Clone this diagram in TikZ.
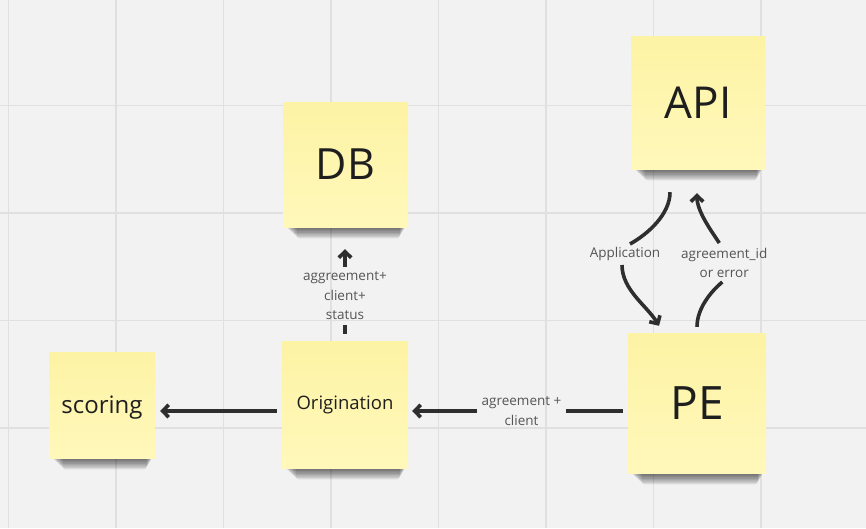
\documentclass[tikz,border=0pt]{standalone}
\usepackage{fontspec}
\setmainfont{Open Sans}
\usetikzlibrary{arrows.meta,calc,backgrounds}
\definecolor{bg}{HTML}{F2F2F2}
\definecolor{gridc}{HTML}{E0E0E0}
\definecolor{stickytop}{HTML}{FDF3A5}
\definecolor{stickybot}{HTML}{FFF8BA}
\definecolor{ink}{HTML}{1E1E1E}
\definecolor{labc}{HTML}{555555}
\definecolor{wirec}{HTML}{2E2E2E}
\tikzset{
  sticky/.style={rectangle, inner sep=0pt, top color=stickytop, bottom color=stickybot, draw=none, text=ink},
  lbl/.style={text=labc, font=\fontsize{13.5}{19.5}\selectfont, align=center, inner sep=0pt},
  wire/.style={draw=wirec, line width=3.6pt, line cap=butt},
  arrowend/.style={-{Straight Barb[length=6pt,width=12.5pt]}},
  gridline/.style={draw=gridc, line width=1.5pt},
}
\begin{document}
\begin{tikzpicture}[x=1pt,y=-1pt]
\useasboundingbox (0,0) rectangle (866,528);
% stickies
\node[sticky, minimum width=134pt, minimum height=133pt, font=\fontsize{44}{48}\selectfont] (api) at (698,102.5) {API};
\node[sticky, minimum width=125pt, minimum height=125pt, font=\fontsize{43}{48}\selectfont] (db) at (345.5,164.5) {DB};
\node[sticky, minimum width=106pt, minimum height=106pt, font=\fontsize{24}{28}\selectfont, text height=17pt, text depth=0pt] (scoring) at (102,405) {scoring};
\node[sticky, minimum width=126pt, minimum height=127pt, font=\fontsize{18.5}{22}\selectfont, text height=13.2pt, text depth=3.6pt] (orig) at (345,404.5) {Origination};
\node[sticky, minimum width=138pt, minimum height=140pt, font=\fontsize{46}{50}\selectfont] (pe) at (697,403) {PE};
% background: grid and shadows
\begin{scope}[on background layer]
  \fill[bg] (0,0) rectangle (866,528);
  \foreach \x in {8.5,116,223.5,331,438.5,546,653.5,761} \draw[gridline] (\x,0) -- (\x,528);
  \foreach \y in {105.5,213,320.5,428} \draw[gridline] (0,\y) -- (866,\y);
  \foreach \n in {api,db,scoring,orig,pe} {
    \foreach \k in {1,...,8} {
      \fill[black, opacity=0.085, rounded corners=3pt] ($(\n.south west)+(2+1.5*\k,-3)$) rectangle ($(\n.south east)+(-2-0.8*\k,1.4*\k)$);
    }
  }
\end{scope}
% labels
\node[lbl] (lagr) at (521.5,411) {agreement +\\client};
\node[lbl] (lstat) at (345,296) {aggreement+\\client+\\status};
\node[lbl] (lapp) at (625,254) {Application};
\node[lbl] (lagid) at (724.3,263) {agreement\_id\\or error};
% connectors
\draw[wire, arrowend] ($(orig.west)+(-5,6.5)$) -- ($(scoring.east)+(5,6)$);
\draw[wire] ($(pe.west)+(-5,8)$) -- ($(lagr.east)+(4,0)$);
\draw[wire, arrowend] ($(lagr.west)+(-4,0)$) -- ($(orig.east)+(4,6.5)$);
\draw[wire] ($(orig.north)+(0,-7)$) -- ($(orig.north)+(0,-16)$);
\draw[wire, arrowend] ($(db.south)+(-0.5,40)$) -- ($(db.south)+(-0.5,22)$);
\draw[wire] ($(api.south)+(-28,23)$) .. controls +(0,22) and +(18,-10) .. ($(lapp.center)+(5,-10)$);
\draw[wire, arrowend] ($(lapp.center)+(-3,11)$) .. controls +(0,25) and +(-12,-20) .. ($(pe.north)+(-38,-7)$);
\draw[wire] ($(pe.north)+(0,-6)$) .. controls +(0,-18) and +(-12,10) .. ($(lagid.center)+(-2,19)$);
\draw[wire, arrowend] ($(lagid.center)+(-5,-20)$) .. controls +(-8,-12) and +(0,18) .. ($(api.south)+(-1,24)$);
\end{tikzpicture}
\end{document}
